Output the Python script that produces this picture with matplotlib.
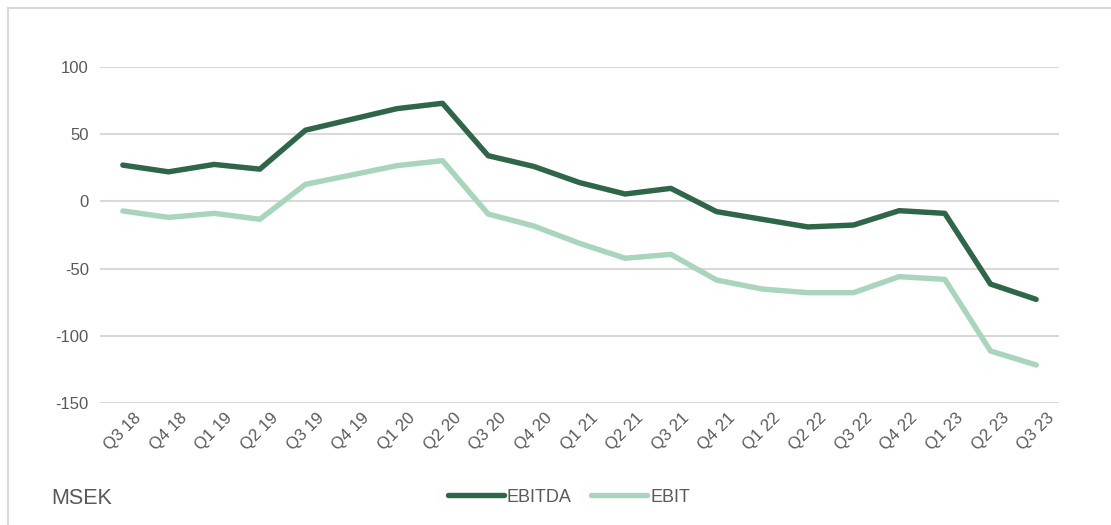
import matplotlib
matplotlib.use("Agg")
import matplotlib.pyplot as plt
from matplotlib.lines import Line2D

quarters = ["Q3 18", "Q4 18", "Q1 19", "Q2 19", "Q3 19", "Q4 19", "Q1 20", "Q2 20",
            "Q3 20", "Q4 20", "Q1 21", "Q2 21", "Q3 21", "Q4 21", "Q1 22", "Q2 22",
            "Q3 22", "Q4 22", "Q1 23", "Q2 23", "Q3 23"]
ebitda = [27, 22, 27.5, 24, 53, 61, 69, 73, 34, 26, 14, 5.5, 9.7, -7.6, -13.3, -19,
          -17.6, -6.9, -8.9, -61.5, -72.9]
ebit = [-7.1, -11.9, -8.9, -13.3, 12.7, 19.6, 26.6, 30.3, -9.4, -18.3, -31.2, -42.3,
        -39.4, -58.5, -65.2, -67.9, -67.9, -56, -58, -111.3, -121.7]
yticks = [-150, -100, -50, 0, 50, 100]

c_dark = "#2E6647"
c_light = "#A9D5BC"
txt = "#595959"
grid = "#D9D9D9"

plt.rcParams["font.family"] = ["Liberation Sans", "DejaVu Sans"]

fig = plt.figure(figsize=(11.11, 5.25), dpi=100)
W, H = 1111, 525

# partial frame (top and left border)
fig.add_artist(Line2D([8 / W, 1.0], [1 - 8 / H, 1 - 8 / H], color=grid, lw=1.5))
fig.add_artist(Line2D([8 / W, 8 / W], [0, 1 - 8 / H], color=grid, lw=1.5))

ax = fig.add_axes([100 / W, 1 - 403 / H, (1059 - 100) / W, (403 - 67) / H])
x = list(range(len(quarters)))
ax.plot(x, ebitda, color=c_dark, lw=3.9, solid_capstyle="round", solid_joinstyle="round", zorder=3)
ax.plot(x, ebit, color=c_light, lw=3.9, solid_capstyle="round", solid_joinstyle="round", zorder=3)

ax.set_xlim(-0.5, len(quarters) - 0.5)
ax.set_ylim(-150, 100)
ax.set_yticks(yticks)
ax.set_yticklabels([str(v) for v in yticks])
ax.set_xticks(x)
ax.set_xticklabels(quarters, rotation=45, ha="center", va="top")
ax.grid(axis="y", color=grid, lw=1.5)
ax.set_axisbelow(True)
for s in ax.spines.values():
    s.set_visible(False)
ax.tick_params(axis="both", length=0, labelcolor=txt, labelsize=12)
ax.tick_params(axis="y", pad=8)
ax.tick_params(axis="x", pad=5)

# legend
handles = [Line2D([], [], color=c_dark, lw=3.9, solid_capstyle="round"),
           Line2D([], [], color=c_light, lw=3.9, solid_capstyle="round")]
leg = fig.legend(handles, ["EBITDA", "EBIT"], loc="center", bbox_to_anchor=(569 / W, 1 - 497 / H),
                 ncol=2, frameon=False, fontsize=13, handlelength=3.1, handletextpad=0.15,
                 columnspacing=1.1, labelcolor=txt, borderpad=0)

fig.text(51 / W, 1 - 498 / H, "MSEK", fontsize=15.5, color=txt, ha="left", va="center")

fig.savefig("out.png", dpi=100)
